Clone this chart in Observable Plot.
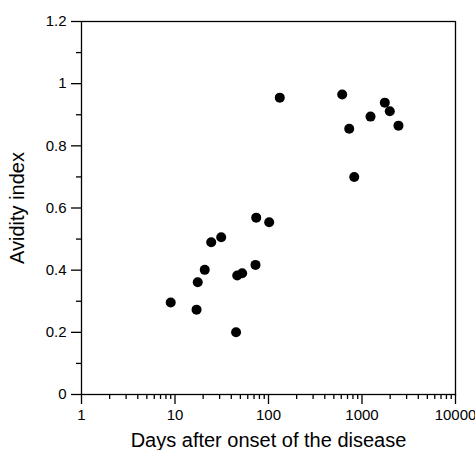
<!DOCTYPE html>
<html>
<head>
<meta charset="utf-8">
<script src="https://cdn.jsdelivr.net/npm/d3@7"></script>
<script src="https://cdn.jsdelivr.net/npm/@observablehq/plot@0.6"></script>
<style>
  html, body { margin: 0; padding: 0; background: #fff; }
  #chart svg { display: block; }
</style>
</head>
<body>
<div id="chart"></div>
<script>
// Data
const days = [9, 17, 17.5, 20.8, 24.4, 31.2, 45, 46.3, 52.3, 72.6, 73.9, 101.7, 132, 614, 730, 826, 1233, 1754, 1983, 2455];
const avidity = [0.296, 0.273, 0.361, 0.401, 0.490, 0.506, 0.200, 0.383, 0.390, 0.417, 0.569, 0.554, 0.955, 0.965, 0.855, 0.700, 0.894, 0.939, 0.911, 0.865];

const xMajorTicks = [1, 10, 100, 1000, 10000];
const xMinorTicks = [2,3,4,5,6,7,8,9, 20,30,40,50,60,70,80,90, 200,300,400,500,600,700,800,900, 2000,3000,4000,5000,6000,7000,8000,9000];
const yMajorTicks = [0, 0.2, 0.4, 0.6, 0.8, 1, 1.2];
const yMinorTicks = [0.1, 0.3, 0.5, 0.7, 0.9, 1.1];

const xTitle = "Days after onset of the disease";
const yTitle = "Avidity index";

const data = days.map((d, i) => ({days: d, avidity: avidity[i]}));

const chart = Plot.plot({
  width: 475,
  height: 450,
  marginLeft: 81,
  marginRight: 20,
  marginTop: 21,
  marginBottom: 56,
  style: {fontFamily: "'Liberation Sans', Arial, Helvetica, sans-serif", fontSize: "15px", color: "#000", background: "#fff"},
  x: {type: "log", domain: [1, 10000]},
  y: {domain: [0, 1.2]},
  marks: [
    Plot.frame({stroke: "#000", strokeWidth: 1.3}),
    Plot.axisY({ticks: yMajorTicks, tickSize: 10, tickPadding: 5, tickFormat: d => String(d), fontSize: 15, strokeWidth: 1.3,
      label: yTitle, labelAnchor: "center", labelArrow: "none", labelOffset: 72}),
    Plot.axisY({ticks: yMinorTicks, tickSize: 5, tickFormat: () => "", label: null, strokeWidth: 1.3}),
    Plot.axisX({ticks: xMajorTicks, tickSize: 10, tickPadding: 5, tickFormat: d => String(d), fontSize: 15, strokeWidth: 1.3,
      label: xTitle, labelAnchor: "center", labelArrow: "none", labelOffset: 52}),
    Plot.axisX({ticks: xMinorTicks, tickSize: 5, tickFormat: () => "", label: null, strokeWidth: 1.3}),
    Plot.dot(data, {x: "days", y: "avidity", r: 5, fill: "#000", stroke: "none"})
  ]
});

// title font size
chart.querySelectorAll("[aria-label='x-axis label'] text, [aria-label='y-axis label'] text").forEach(t => t.setAttribute("font-size", "20"));
document.getElementById("chart").appendChild(chart);
</script>
</body>
</html>
